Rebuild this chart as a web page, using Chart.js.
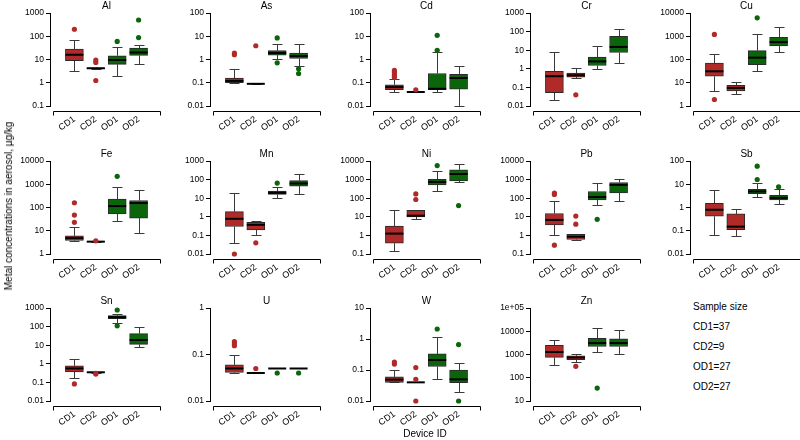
<!DOCTYPE html>
<html><head><meta charset="utf-8">
<script src="https://cdn.jsdelivr.net/npm/chart.js@4.4.1/dist/chart.umd.min.js"></script>
<style>
html,body{margin:0;padding:0;background:#fff;}
#wrap{position:relative;width:800px;height:440px;overflow:hidden;font-family:"Liberation Sans",Arial,sans-serif;color:#000;}
#wrap canvas{position:absolute;}
.lbl{position:absolute;font-size:10px;line-height:12px;white-space:nowrap;}
</style></head><body><div id="wrap"></div>
<script>
// ---------- DATA ----------
const elements = ['Al','As','Cd','Cr','Cu','Fe','Mn','Ni','Pb','Sb','Sn','U','W','Zn'];
const groups = ['CD1','CD2','OD1','OD2'];
const sampleSizes = [37, 9, 27, 27];

const yTicks = [
  [0.1,1,10,100,1000],
  [0.01,0.1,1,10,100],
  [0.01,0.1,1,10,100],
  [0.01,0.1,1,10,100,1000],
  [1,10,100,1000,10000],
  [1,10,100,1000,10000],
  [0.01,0.1,1,10,100,1000],
  [0.1,1,10,100,1000,10000],
  [0.1,1,10,100,1000,10000],
  [0.01,0.1,1,10,100],
  [0.01,0.1,1,10,100,1000],
  [0.01,0.1,1],
  [0.01,0.1,1,10],
  [10,100,1000,10000,100000]
];
const yTickLabels = [
  ['0.1','1','10','100','1000'],
  ['0.01','0.1','1','10','100'],
  ['0.01','0.1','1','10','100'],
  ['0.01','0.1','1','10','100','1000'],
  ['1','10','100','1000','10000'],
  ['1','10','100','1000','10000'],
  ['0.01','0.1','1','10','100','1000'],
  ['0.1','1','10','100','1000','10000'],
  ['0.1','1','10','100','1000','10000'],
  ['0.01','0.1','1','10','100'],
  ['0.01','0.1','1','10','100','1000'],
  ['0.01','0.1','1'],
  ['0.01','0.1','1','10'],
  ['10','100','1000','10000','1e+05']
];

// per element: [CD1, CD2, OD1, OD2]
const whiskerLow = [
  [3.2, 4.0, 2.0, 6.3],
  [0.1, 0.09, 1.1, 0.55],
  [0.042, 0.04, 0.042, 0.01],
  [0.02, 0.32, 1.0, 2.1],
  [4.4, 3.2, 33, 210],
  [3.5, 3.3, 25, 8],
  [0.038, 0.11, 10, 17],
  [0.14, 7.2, 230, 700],
  [1.1, 0.55, 42, 75],
  [0.068, 0.058, 2.7, 1.45],
  [0.18, 0.34, 150, 8],
  [0.04, 0.04, 0.05, 0.05],
  [0.04, 0.04, 0.052, 0.02],
  [370, 460, 1300, 1060]
];
const q1 = [
  [8.9, 4.0, 6.2, 15],
  [0.1, 0.09, 1.55, 1.1],
  [0.05, 0.04, 0.05, 0.053],
  [0.052, 0.36, 1.5, 7.5],
  [19, 4.5, 60, 380],
  [3.8, 3.3, 53, 35],
  [0.3, 0.2, 16, 45],
  [0.38, 10, 520, 850],
  [3.7, 0.6, 80, 195],
  [0.42, 0.11, 3.9, 2.1],
  [0.37, 0.34, 265, 11],
  [0.041, 0.04, 0.05, 0.05],
  [0.04, 0.04, 0.13, 0.039],
  [750, 600, 2200, 2200]
];
const median = [
  [16, 4.2, 9.5, 20],
  [0.12, 0.09, 1.9, 1.4],
  [0.065, 0.04, 0.055, 0.16],
  [0.4, 0.45, 2.5, 15],
  [31, 6, 120, 560],
  [4.8, 3.4, 115, 155],
  [0.78, 0.37, 19.5, 62],
  [1.25, 11.5, 750, 2000],
  [6.8, 0.85, 115, 520],
  [0.8, 0.15, 4.9, 2.6],
  [0.56, 0.35, 320, 19],
  [0.05, 0.04, 0.05, 0.05],
  [0.049, 0.04, 0.21, 0.05],
  [1280, 740, 3100, 3100]
];
const q3 = [
  [28, 4.4, 14.5, 31],
  [0.16, 0.09, 2.4, 1.9],
  [0.082, 0.04, 0.25, 0.23],
  [0.72, 0.58, 4.3, 55],
  [70, 7.8, 240, 900],
  [6.0, 3.4, 230, 200],
  [1.9, 0.51, 24, 88],
  [3.2, 22, 1050, 3400],
  [15, 1.15, 230, 700],
  [1.5, 0.53, 6.1, 3.3],
  [0.78, 0.36, 390, 42],
  [0.06, 0.04, 0.05, 0.05],
  [0.06, 0.04, 0.33, 0.1],
  [2450, 880, 5000, 4700]
];
const whiskerHigh = [
  [66, 4.4, 33, 41],
  [0.38, 0.09, 4.5, 4.5],
  [0.15, 0.04, 2.2, 0.5],
  [8, 1.1, 17, 130],
  [170, 11, 1300, 2400],
  [14, 3.5, 750, 540],
  [19, 0.6, 40, 190],
  [22, 22, 2800, 7000],
  [70, 1.2, 650, 1100],
  [5.8, 0.88, 11, 6.5],
  [1.9, 0.36, 480, 100],
  [0.1, 0.04, 0.05, 0.05],
  [0.1, 0.04, 1.15, 0.17],
  [4100, 1070, 13500, 11500]
];
const outliers = [
  [[200], [9.5, 7.5, 1.25], [60], [500, 88]],
  [[1.9, 1.6], [3.9], [8.5, 0.72], [0.4, 0.25]],
  [[0.34, 0.29, 0.24, 0.2, 0.17], [0.05], [11, 2.5], []],
  [[], [0.04], [], []],
  [[1200, 1.9], [], [6200], []],
  [[160, 47, 23], [3.7], [2200], []],
  [[0.01], [0.04], [65], []],
  [[], [170, 85], [5700], [40]],
  [[190, 160, 0.3], [11, 4], [7.3], []],
  [[], [], [60, 16], [7.8]],
  [[0.083], [0.31, 0.28], [780, 110], []],
  [[0.19, 0.17, 0.155], [0.05], [0.04], [0.04]],
  [[0.18, 0.155], [0.12, 0.05, 0.01], [2.1], [0.66, 0.01]],
  [[], [310], [36], []]
];

// ---------- STYLE ----------
const FONT = '"Liberation Sans", Arial, sans-serif';
const RED = '#B02A2A', GREEN = '#0B650B';
const groupColors = [RED, RED, GREEN, GREEN];
const wrap = document.getElementById('wrap');

function makeBoxPlugin(e) {
  return {
    id: 'boxparts' + e,
    beforeDatasetsDraw(chart) {
      const xs = chart.scales.x, ys = chart.scales.y, ctx = chart.ctx;
      ctx.save();
      ctx.strokeStyle = '#3a3a3a'; ctx.lineWidth = 1;
      for (let g = 0; g < 4; g++) {
        const x = Math.round(xs.getPixelForValue(g + 1)) + 0.5;
        const yLo = Math.round(ys.getPixelForValue(whiskerLow[e][g])) + 0.5;
        const yHi = Math.round(ys.getPixelForValue(whiskerHigh[e][g])) + 0.5;
        const yQ1 = ys.getPixelForValue(q1[e][g]);
        const yQ3 = ys.getPixelForValue(q3[e][g]);
        ctx.beginPath();
        ctx.moveTo(x, yHi); ctx.lineTo(x, yQ3);
        ctx.moveTo(x, yQ1); ctx.lineTo(x, yLo);
        ctx.moveTo(x - 5, yHi); ctx.lineTo(x + 5, yHi);
        ctx.moveTo(x - 5, yLo); ctx.lineTo(x + 5, yLo);
        ctx.stroke();
      }
      const yb = Math.round(chart.chartArea.bottom) + 5.5;
      const x0 = Math.round(xs.getPixelForValue(0)) + 0.5, x5 = Math.round(xs.getPixelForValue(5)) + 0.5;
      ctx.strokeStyle = '#000';
      ctx.beginPath();
      ctx.moveTo(x0, yb); ctx.lineTo(x5, yb);
      ctx.moveTo(x0, yb); ctx.lineTo(x0, yb + 4);
      ctx.moveTo(x5, yb); ctx.lineTo(x5, yb + 4);
      ctx.stroke();
      ctx.fillStyle = '#000';
      ctx.font = '10px ' + FONT;
      ctx.textAlign = 'center'; ctx.textBaseline = 'middle';
      ctx.fillText(elements[e], xs.getPixelForValue(2.5), chart.chartArea.top - 7);
      ctx.restore();
    },
    afterDatasetDraw(chart, args) {
      if (args.index !== 1) return;
      const xs = chart.scales.x, ys = chart.scales.y, ctx = chart.ctx;
      ctx.save();
      ctx.strokeStyle = '#000'; ctx.lineWidth = 2;
      for (let g = 0; g < 4; g++) {
        const x = xs.getPixelForValue(g + 1);
        const y = ys.getPixelForValue(median[e][g]);
        ctx.beginPath();
        ctx.moveTo(x - 9, y); ctx.lineTo(x + 9, y);
        ctx.stroke();
      }
      ctx.restore();
    }
  };
}

elements.forEach((name, e) => {
  const row = Math.floor(e / 5), col = e % 5;
  const axisX = 50 + col * 160;
  const topY = 13 + Math.round(row * 147.5);
  const cv = document.createElement('canvas');
  cv.width = 160; cv.height = 147;
  cv.style.left = (axisX - 46) + 'px';
  cv.style.top = (topY - 14) + 'px';
  wrap.appendChild(cv);

  const pts = [], ptColors = [];
  outliers[e].forEach((arr, g) => arr.forEach(v => { pts.push({x: g + 1, y: v}); ptColors.push(groupColors[g]); }));

  new Chart(cv, {
    type: 'bar',
    data: {
      datasets: [
        { type: 'scatter', data: pts, backgroundColor: ptColors, borderWidth: 0, pointRadius: 2.6, clip: false },
        { type: 'bar', data: groups.map((g, i) => ({x: i + 1, y: [q1[e][i], q3[e][i]]})),
          backgroundColor: groupColors, borderColor: '#2a2a2a', borderWidth: 1, borderSkipped: false,
          barThickness: 18, clip: false }
      ]
    },
    options: {
      responsive: false, animation: false, events: [],
      layout: { padding: { top: 14, right: 1, bottom: 0, left: 0 } },
      plugins: { legend: { display: false }, tooltip: { enabled: false }, title: { display: false } },
      scales: {
        x: {
          type: 'linear', min: -0.14, max: 5, offset: false,
          afterFit: s => { s.height = 40; },
          afterBuildTicks: s => { s.ticks = [1, 2, 3, 4].map(v => ({ value: v })); },
          ticks: { callback: v => groups[v - 1], font: { size: 9, family: FONT }, color: '#000',
                   minRotation: 35, maxRotation: 35, padding: 8, autoSkip: false },
          grid: { display: false, drawTicks: false },
          border: { display: false }
        },
        y: {
          type: 'logarithmic', min: yTicks[e][0], max: yTicks[e][yTicks[e].length - 1],
          afterFit: s => { s.width = 46; },
          afterBuildTicks: s => { s.ticks = yTicks[e].map(v => ({ value: v })); },
          ticks: { callback: (v, i) => yTickLabels[e][i], font: { size: 8.5, family: FONT }, color: '#000',
                   padding: 2, autoSkip: false, maxRotation: 0 },
          grid: { display: true, drawOnChartArea: false, drawTicks: true, tickLength: 4, color: '#000' },
          border: { display: true, color: '#000', width: 1 }
        }
      }
    },
    plugins: [makeBoxPlugin(e)]
  });
});

function addLabel(text, css) {
  const d = document.createElement('div');
  d.className = 'lbl'; d.textContent = text;
  Object.assign(d.style, css);
  wrap.appendChild(d);
}
addLabel('Metal concentrations in aerosol, µg/kg', { left: '9px', top: '206px', transform: 'translate(-50%,-50%) rotate(-90deg)' });
addLabel('Device ID', { left: '425px', top: '434px', transform: 'translate(-50%,-50%)' });
addLabel('Sample size', { left: '693px', top: '301px' });
groups.forEach((g, i) => addLabel(g + '=' + sampleSizes[i], { left: '693px', top: (321 + i * 20) + 'px' }));
</script>
</body></html>
